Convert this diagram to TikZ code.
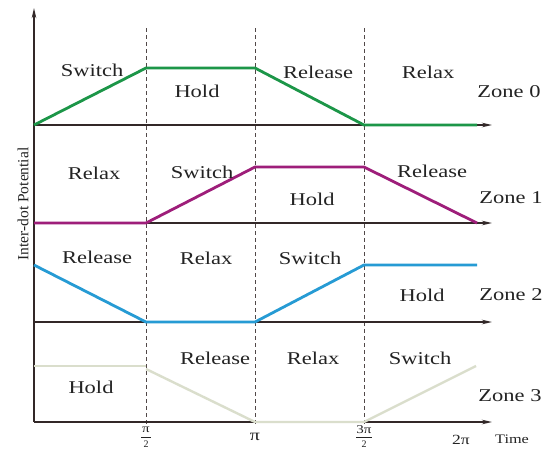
\documentclass[tikz,border=0pt]{standalone}
\usepackage{fontspec}
\setmainfont{Liberation Serif}
\usetikzlibrary{arrows.meta}
\definecolor{cgreen}{RGB}{28,150,72}
\definecolor{cpurple}{RGB}{158,30,122}
\definecolor{cblue}{RGB}{38,155,212}
\definecolor{cbeige}{RGB}{218,222,204}
\definecolor{caxis}{RGB}{50,40,40}
\definecolor{ctext}{RGB}{35,35,35}
\newcommand\wide[1]{\scalebox{1.25}[1]{#1}}
\begin{document}
\begin{tikzpicture}[x=1pt,y=-1pt,
  lbl/.style={text=ctext,font=\fontsize{18}{20}\selectfont,inner sep=0pt},
  tick/.style={text=ctext,font=\fontsize{12}{14}\selectfont,inner sep=0pt},
  axisline/.style={draw=caxis,line width=1.6pt,-{Stealth[length=10pt,width=4.5pt]}},
  guide/.style={draw=caxis!85,line width=0.9pt,dash pattern=on 4pt off 3pt},
  curve/.style={line width=2.8pt,line join=round}]
\useasboundingbox (0,0) rectangle (548,450);
\fill[white] (0,0) rectangle (548,450);
% coordinates
\coordinate (O) at (34,422);
\coordinate (Ytop) at (34,8);
\foreach \n/\y in {0/125,1/223,2/322,3/422}{
  \coordinate (b\n) at (34,\y);
  \coordinate (e\n) at (492,\y);
}
\foreach \n/\x in {1/146,2/255,3/364}{
  \coordinate (gt\n) at (\x,28);
  \coordinate (gb\n) at (\x,425);
}
% guides
\foreach \n in {1,2,3}{ \draw[guide] (gt\n) -- (gb\n); }
% axes
\draw[axisline] (O) -- (Ytop);
\foreach \n in {0,1,2,3}{ \draw[axisline] (b\n) -- (e\n); }
% curves
\draw[curve,cgreen] (34,125) -- (146,68) -- (255,68) -- (364,125) -- (477,125);
\draw[curve,cpurple] (34,223) -- (146,223) -- (255,167) -- (364,167) -- (477,223);
\draw[curve,cblue] (34,265) -- (146,322) -- (255,322) -- (364,265) -- (477,265);
\draw[curve,cbeige,line width=2.4pt] (34,366) -- (146,366);
\draw[curve,cbeige,line width=2.4pt] (146,369) -- (255,422) -- (364,422) -- (476,366);
% zone 0
\node[lbl] (s0) at (92,70) {\wide{Switch}};
\node[lbl] (h0) at (197,91) {\wide{Hold}};
\node[lbl] (r0) at (318,72) {\wide{Release}};
\node[lbl] (x0) at (428,72) {\wide{Relax}};
\node[lbl] (z0) at (509,92) {\wide{Zone 0}};
% zone 1
\node[lbl] (x1) at (94,173) {\wide{Relax}};
\node[lbl] (s1) at (202,172) {\wide{Switch}};
\node[lbl] (h1) at (312,199) {\wide{Hold}};
\node[lbl] (r1) at (432,171) {\wide{Release}};
\node[lbl] (z1) at (511,198) {\wide{Zone 1}};
% zone 2
\node[lbl] (r2) at (97,257) {\wide{Release}};
\node[lbl] (x2) at (206,258) {\wide{Relax}};
\node[lbl] (s2) at (310,258) {\wide{Switch}};
\node[lbl] (h2) at (422,295) {\wide{Hold}};
\node[lbl] (z2) at (511,295) {\wide{Zone 2}};
% zone 3
\node[lbl] (h3) at (91,387) {\wide{Hold}};
\node[lbl] (r3) at (215,358) {\wide{Release}};
\node[lbl] (x3) at (313,358) {\wide{Relax}};
\node[lbl] (s3) at (420,358) {\wide{Switch}};
\node[lbl] (z3) at (510,396) {\wide{Zone 3}};
% y label
\node[text=ctext,font=\fontsize{15.5}{17}\selectfont,inner sep=0pt,rotate=90] (ylab) at (23,204) {Inter-dot Potential};
% ticks
\node[tick] (t1n) at (146,430) {\wide{π}};
\draw[ctext,line width=0.6pt] (141,437) -- (151,437);
\node[tick,font=\fontsize{10}{11}\selectfont] (t1d) at (146,444) {2};
\node[tick,font=\fontsize{16}{18}\selectfont] (t2) at (255,437) {\wide{π}};
\node[tick] (t3n) at (364,430) {\wide{3π}};
\draw[ctext,line width=0.6pt] (356,437) -- (372,437);
\node[tick,font=\fontsize{10}{11}\selectfont] (t3d) at (364,444) {2};
\node[tick,font=\fontsize{14}{16}\selectfont] (t4) at (461,440) {\wide{2π}};
\node[tick,font=\fontsize{13}{15}\selectfont] (time) at (512,439) {\wide{Time}};
\end{tikzpicture}
\end{document}
